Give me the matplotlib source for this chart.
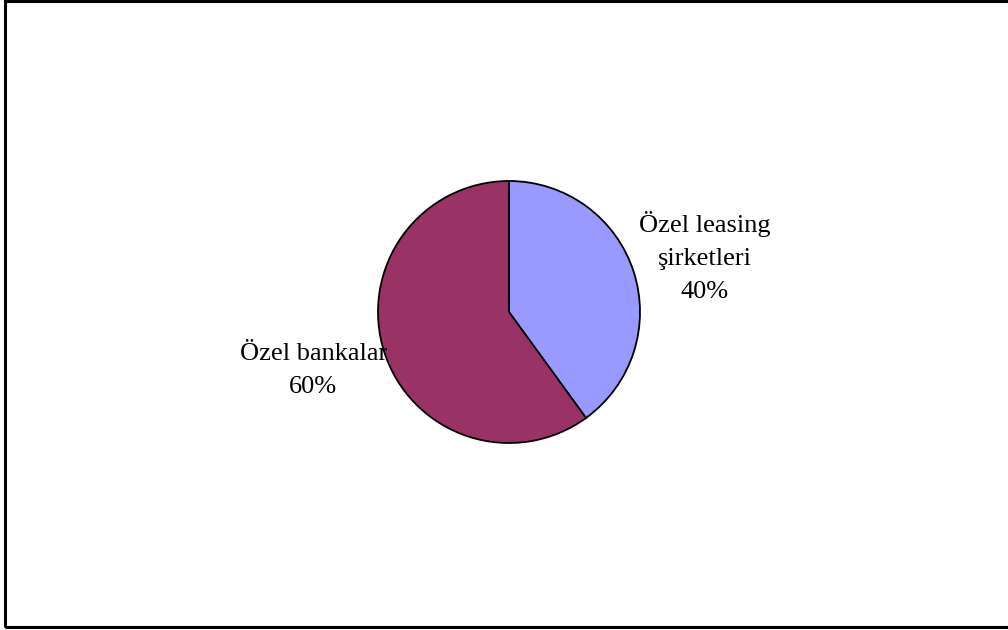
import matplotlib.pyplot as plt
from matplotlib.patches import Rectangle

labels = ["Özel leasing\nşirketleri", "Özel bankalar"]
shares = [40, 60]
colors = ["#9999FF", "#993366"]

fig = plt.figure(figsize=(10.08, 6.3), dpi=100)

# outer frame (right edge runs off the image in the original)
fig.patches.append(Rectangle((5 / 1008, 3 / 630), 1.01, 626 / 630,
                             transform=fig.transFigure, fill=False,
                             edgecolor="black", linewidth=2.2))

# pie axes: centre ~(509, 312) px, radius ~131 px
r = 131
ax = fig.add_axes([(509 - r) / 1008, (630 - 312 - r) / 630, 2 * r / 1008, 2 * r / 630])
texts = ax.pie(shares, colors=colors, startangle=90, counterclock=False,
               labels=[f"{l}\n{s}%" for l, s in zip(labels, shares)],
               labeldistance=1.57,
               wedgeprops=dict(edgecolor="black", linewidth=1.3),
               textprops=dict(family="Liberation Serif", fontsize=19,
                              linespacing=1.65))[1]
# labels sit a bit closer to the horizontal in the original
for t, dy in zip(texts, [-0.065, 0.04]):
    t.set_ha("center")
    t.set_va("center")
    x, y = t.get_position()
    t.set_position((x, y + dy))
ax.set_xlim(-1, 1)
ax.set_ylim(-1, 1)
ax.axis("off")

fig.savefig("out.png", dpi=100)
